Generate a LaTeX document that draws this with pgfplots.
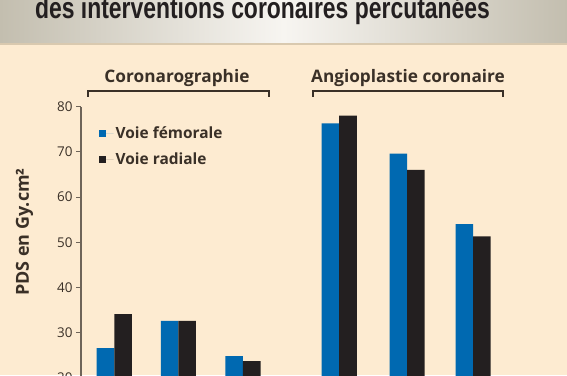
\documentclass[border=0pt]{standalone}
\usepackage{pgfplots}
\pgfplotsset{compat=1.18}
\usepackage{fontspec}
\setmainfont{Open Sans}
\newfontfamily\titlefont[FakeStretch=0.767]{Liberation Sans}
\definecolor{cream}{HTML}{FDEBD1}
\definecolor{barblue}{HTML}{0069B1}
\definecolor{barblack}{HTML}{231F20}
\definecolor{axisc}{HTML}{6E6459}
\definecolor{txt}{HTML}{3A3027}
\definecolor{bandgray}{HTML}{C3BEAF}
\definecolor{bandlight}{HTML}{F7F5F1}
\definecolor{bandline}{HTML}{D9C9AF}
\begin{document}
\begin{tikzpicture}[x=1bp,y=1bp]
\begin{scope}
\clip (0,0) rectangle (567,375);
\fill[cream] (0,0) rectangle (567,375);
\shade[left color=bandgray, right color=bandgray, middle color=bandlight] (0,332) rectangle (567,375);
\fill[bandline] (0,330.5) rectangle (567,332.5);
\node[anchor=base, font=\titlefont\bfseries\fontsize{30}{30}\selectfont, text=barblack, inner sep=0pt] at (262.5,356.7) {des interventions coronaires percutanées};
\begin{axis}[
  at={(81bp,-93.3bp)}, anchor=south west,
  scale only axis, width=423.3bp, height=361.6bp,
  ymin=0, ymax=80, xmin=-0.512, xmax=6,
  ybar, bar width=0.27,
  axis y line*=left, axis x line*=bottom,
  axis line style={axisc, line width=1.1bp},
  xtick=\empty, ytick={0,10,...,80},
  tick align=outside, major tick length=5bp,
  every tick/.style={axisc, line width=1bp},
  /pgf/number format/assume math mode=true,
  yticklabel style={font=\fontsize{13.5}{13.5}\selectfont, text=txt},
  ylabel={PDS en Gy.cm²},
  ylabel style={at={(axis description cs:-0.1335,0.6535)}, anchor=center, font=\bfseries\fontsize{18}{18}\selectfont, text=txt},
  legend style={at={(axis description cs:0.0425,0.951)}, anchor=north west, draw=none, fill=none,
    font=\bfseries\fontsize{15.5}{16}\selectfont, text=txt, row sep=9bp, inner sep=0pt},
  legend cell align=left,
]
\addplot[fill=barblue, draw=none, bar shift=-0.135,
  legend image code/.code={\fill[barblue] (0bp,-3.5bp) rectangle (7bp,3.5bp); \path (0bp,0bp) -- (14.5bp,0bp);}]
  coordinates {(0,26.6) (0.985,32.6) (1.98,24.8) (3.46,76.3) (4.505,69.6) (5.52,54.0)};
\addlegendentry{Voie fémorale}
\addplot[fill=barblack, draw=none, bar shift=0.135,
  legend image code/.code={\fill[barblack] (0bp,-3.5bp) rectangle (7bp,3.5bp); \path (0bp,0bp) -- (14.5bp,0bp);}]
  coordinates {(0,34.1) (0.985,32.6) (1.98,23.7) (3.46,78.0) (4.505,66.0) (5.52,51.3)};
\addlegendentry{Voie radiale}
\end{axis}
\draw[line width=1.8bp, txt] (88.3,278.3) -- (88.3,284.3) -- (269.3,284.3) -- (269.3,278.3);
\draw[line width=1.8bp, txt] (312.7,278.3) -- (312.7,284.3) -- (502.7,284.3) -- (502.7,278.3);
\node[anchor=base, font=\bfseries\fontsize{17.3}{17.3}\selectfont, text=txt, inner sep=0pt] at (177,292.3) {Coronarographie};
\node[anchor=base, font=\bfseries\fontsize{17.3}{17.3}\selectfont, text=txt, inner sep=0pt] at (408,292.3) {Angioplastie coronaire};
\end{scope}
\pgfresetboundingbox
\useasboundingbox (0,0) rectangle (567,375);
\end{tikzpicture}
\end{document}
